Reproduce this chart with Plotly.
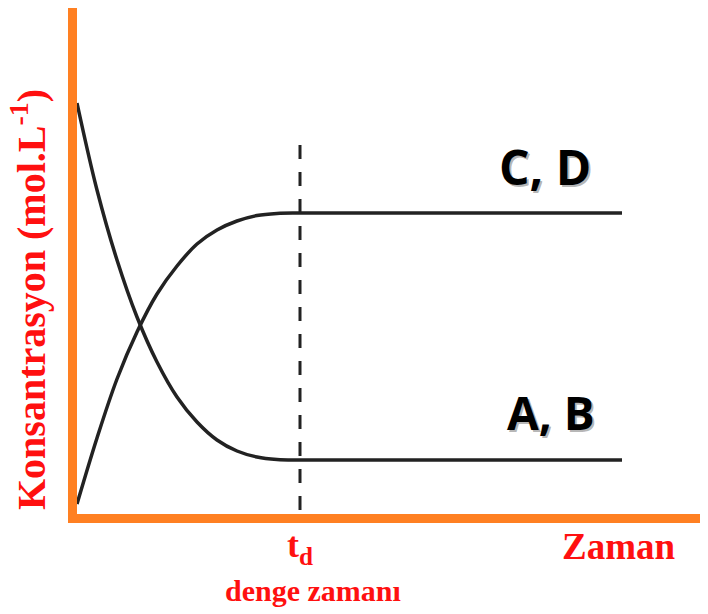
import plotly.graph_objects as go

# zaman ekseni (keyfi birim) ve derişimler
zaman = [0, 20, 40, 60, 80, 100, 120, 140, 160, 180, 200, 223, 300, 400, 545]
derisim_ab = [411, 324, 254, 197, 152, 117, 92, 74, 63, 57, 54.5, 54, 54, 54, 54]
derisim_cd = [10, 76, 135, 182, 220, 248, 270, 284, 293, 298.5, 300.6, 301, 301, 301, 301]
t_denge = 223
dikey_cizgi_y = [369, 0]

kirmizi = '#ff1010'
turuncu = '#ff8022'
koyu = '#222222'

fig = go.Figure()

fig.add_trace(go.Scatter(x=zaman, y=derisim_ab, mode='lines', line_shape='spline',
                         line=dict(color=koyu, width=3.5), name='A, B'))
fig.add_trace(go.Scatter(x=zaman, y=derisim_cd, mode='lines', line_shape='spline',
                         line=dict(color=koyu, width=3.5), name='C, D'))
fig.add_trace(go.Scatter(x=[t_denge, t_denge], y=dikey_cizgi_y, mode='lines',
                         line=dict(color=koyu, width=3, dash='14px,13px'), name='t_d'))


def etiket(metin, x, y, boyut):
    # hafif gri gölge + asıl yazı
    fig.add_annotation(x=x, y=y, text=metin, showarrow=False, xshift=2, yshift=-2,
                       font=dict(family='Open Sans', size=boyut, color='rgba(0,0,0,0.3)', weight='bold'))
    fig.add_annotation(x=x, y=y, text=metin, showarrow=False,
                       font=dict(family='Open Sans', size=boyut, color='black', weight='bold'))


etiket('C, D', 468, 348, 48)
etiket('A, B', 474, 102, 46)

seri = 'Liberation Serif'


def kirmizi_yazi(metin, x, y, boyut, xref='paper', aci=0):
    fig.add_annotation(x=x, xref=xref, y=y, yref='paper', text=metin, showarrow=False,
                       xanchor='center', yanchor='middle', textangle=aci,
                       font=dict(family=seri, size=boyut, color=kirmizi, weight='bold'))


kirmizi_yazi('t<sub>d</sub>', t_denge, -0.067, 36, xref='x')
kirmizi_yazi('Zaman', 0.859, -0.065, 37)
kirmizi_yazi('denge zamanı', 0.374, -0.152, 30)
kirmizi_yazi('Konsantrasyon (mol.L<sup>-1</sup>)', -0.076, 0.423, 40, aci=-90)

fig.update_xaxes(range=[0, 631], showline=True, linecolor=turuncu, linewidth=9,
                 showgrid=False, zeroline=False, showticklabels=False, ticks='')
fig.update_yaxes(range=[0, 506], showline=True, linecolor=turuncu, linewidth=9,
                 showgrid=False, zeroline=False, showticklabels=False, ticks='')

# sayfa gövdesinin 8px kenar boşluğu yüzünden figür biraz küçük tutuldu
fig.update_layout(
    width=700, height=606,
    margin=dict(l=69, r=0, t=0, b=100),
    plot_bgcolor='white', paper_bgcolor='white',
    showlegend=False,
)

fig.write_html('out.html')
